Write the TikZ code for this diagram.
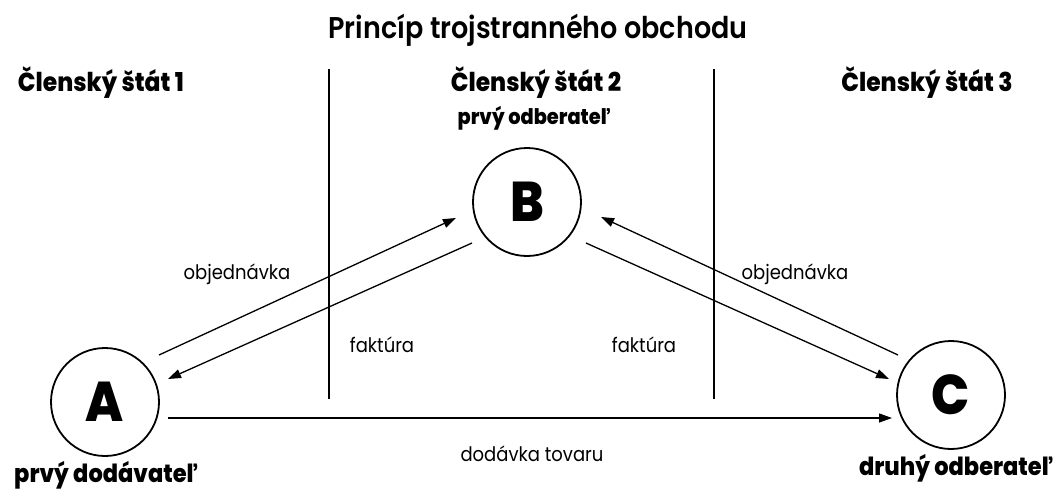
\documentclass[tikz,border=0pt]{standalone}
\usepackage{fontspec}
\setmainfont{Poppins}
\newfontfamily\pop{Poppins}[FakeStretch=0.9]
\newfontfamily\popsb{Poppins SemiBold}[FakeStretch=0.9]
\newfontfamily\popxb{Poppins ExtraBold}[FakeStretch=0.9]
\usetikzlibrary{arrows.meta}
\tikzset{
  party/.style={circle, draw, line width=1.8pt, minimum size=108pt, inner sep=0pt,
    font=\popxb\fontsize{56}{56}\selectfont},
  flow/.style={line width=1.3pt, -{Triangle[length=13pt,width=9pt]}},
  divider/.style={line width=1.4pt},
  heavy/.style={font=\popxb\fontsize{26}{28}\selectfont, anchor=base, inner sep=0pt},
  bottomlabel/.style={font=\popxb\fontsize{25}{28}\selectfont, anchor=base, inner sep=0pt},
  sublabel/.style={font=\popxb\fontsize{21.5}{24}\selectfont, anchor=base, inner sep=0pt},
  thin/.style={font=\pop\fontsize{20}{22}\selectfont, anchor=base, inner sep=0pt},
  titletext/.style={font=\popsb\fontsize{30}{32}\selectfont, anchor=base, inner sep=0pt}
}
\begin{document}
\begin{tikzpicture}[x=1pt,y=-1pt]
\useasboundingbox (0,0) rectangle (1054,490);
% title
\node[titletext] (title) at (538,38) {Princíp trojstranného obchodu};
% state headings
\node[heavy] (s1) at (101,91) {Členský štát 1};
\node[heavy] (s2) at (536,91) {Členský štát 2};
\node[heavy] (s3) at (927,91) {Členský štát 3};
\node[sublabel] (b1) at (534,124) {prvý odberateľ};
% dividers
\coordinate (d1t) at (329,69);
\coordinate (d1b) at (329,399);
\coordinate (d2t) at (714,69);
\coordinate (d2b) at (714,399);
\draw[divider] (d1t) -- (d1b);
\draw[divider] (d2t) -- (d2b);
% parties
\node[party] (A) at (105,402) {A};
\node[party] (B) at (527,202) {B};
\node[party] (C) at (951,395) {C};
% role labels
\node[bottomlabel] (la) at (106,482) {prvý dodávateľ};
\node[bottomlabel] (lc) at (956,475) {druhý odberateľ};
% flows
\draw[flow] ([shift={(54,-47)}]A.center) -- ([shift={(-71,16)}]B.center);
\draw[flow] ([shift={(-55,41)}]B.center) -- ([shift={(63,-23)}]A.center);
\draw[flow] ([shift={(-53,-40)}]C.center) -- ([shift={(74,15)}]B.center);
\draw[flow] ([shift={(59,41)}]B.center) -- ([shift={(-62,-16)}]C.center);
\draw[flow] ([shift={(63,16)}]A.center) -- ([shift={(-59,23)}]C.center);
% flow labels
\node[thin] (o1) at (237,279) {objednávka};
\node[thin] (f1) at (382,352) {faktúra};
\node[thin] (o2) at (795,279) {objednávka};
\node[thin] (f2) at (644,352) {faktúra};
\node[thin] (dt) at (532,461) {dodávka tovaru};
\end{tikzpicture}
\end{document}
